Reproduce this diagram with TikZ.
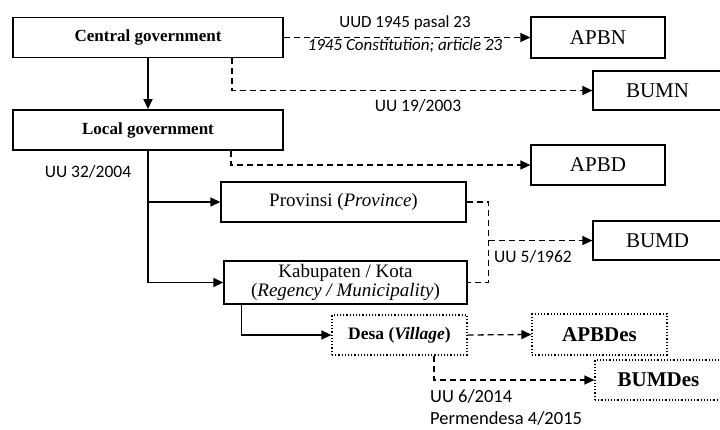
\documentclass[tikz,border=0pt]{standalone}
\usepackage{fontspec}
\setmainfont{Liberation Serif}
\newfontfamily\lawfont{Carlito}
\usetikzlibrary{arrows.meta}

\tikzset{
  govbox/.style={draw,line width=1.8pt,minimum width=270pt,minimum height=40pt,
    font=\fontsize{17}{19}\selectfont\bfseries},
  fundbox/.style={draw,line width=1.2pt,minimum height=40pt,font=\fontsize{21}{23}\selectfont},
  regbox/.style={draw,line width=1.4pt,minimum height=40pt,align=center,
    font=\fontsize{19}{17}\selectfont},
  vilbox/.style={draw,line width=1.2pt,dotted,minimum height=40pt,
    font=\fontsize{21}{23}\selectfont\bfseries},
  lawtext/.style={inner sep=1pt,font=\lawfont\fontsize{17.5}{18}\selectfont},
  legal/.style={line width=1.3pt,dash pattern=on 6pt off 4pt,->},
  rule/.style={line width=1.4pt,->}
}

\begin{document}
\begin{tikzpicture}[x=1pt,y=-1pt,>={Triangle[length=10pt,width=9pt]}]
\useasboundingbox (0,0) rectangle (720,429);
% government levels
\node[govbox] (central) at (148,37.5) {Central government};
\node[govbox] (local) at (148,130) {Local government};
\node[regbox,minimum width=245pt] (prov) at (343.5,202) {Provinsi (\textit{Province})};
\node[regbox,minimum width=243pt,minimum height=43pt] (kab) at (345.5,282.5)
  {Kabupaten / Kota\\(\textit{Regency / Municipality})};
\node[vilbox,minimum width=135pt,font=\fontsize{17.5}{19}\selectfont\bfseries] (desa) at (399.5,335)
  {Desa (\textit{Village})};
% budgets and enterprises
\node[fundbox,minimum width=134pt,minimum height=41pt] (apbn) at (598,37.5) {APBN};
\node[fundbox,minimum width=129pt,minimum height=39pt] (bumn) at (657.5,90.5) {BUMN};
\node[fundbox,minimum width=134pt] (apbd) at (598,165) {APBD};
\node[fundbox,minimum width=129pt,minimum height=39pt] (bumd) at (657.5,240.5) {BUMD};
\node[vilbox,minimum width=135pt,minimum height=41pt] (apbdes) at (599.5,334.5) {APBDes};
\node[vilbox,minimum width=127pt] (bumdes) at (658.5,380) {BUMDes};
% hierarchy
\draw[rule] (central) -- (local);
\draw[rule] (local.south) |- (prov.west);
\draw[rule] (local.south) |- (kab.west);
\draw[rule] ([xshift=-104pt]kab.south) |- (desa.west);
% legal basis
\draw[legal] (central.east) -- (apbn.west);
\draw[legal] ([xshift=84pt]central.south) |- (bumn.west);
\draw[legal] ([xshift=83pt]local.south) |- (apbd.west);
\coordinate (bj) at ([xshift=22pt]prov.east |- bumd.west);
\draw[legal,-] (prov.east) -| (bj) |- (kab.east);
\draw[legal] (bj) -- (bumd.west);
\draw[legal] (desa.east) -- (apbdes.west);
\draw[legal] ([xshift=34.5pt]desa.south) |- (bumdes.west);
% laws
\node[lawtext,font=\lawfont\fontsize{17}{18}\selectfont] (uud) at (405,23) {UUD 1945 pasal 23};
\node[lawtext,font=\lawfont\fontsize{17}{18}\selectfont\itshape] (const) at (405,46)
  {1945 Constitution; article 23};
\node[lawtext] (uu19) at (418,106) {UU 19/2003};
\node[lawtext] (uu32) at (88,172) {UU 32/2004};
\node[lawtext] (uu5) at (533,257) {UU 5/1962};
\node[lawtext,inner sep=0pt,anchor=west,font=\lawfont\fontsize{18.5}{18}\selectfont] (uu6) at (430,396) {UU 6/2014};
\node[lawtext,inner sep=0pt,anchor=west,font=\lawfont\fontsize{18.5}{18}\selectfont] (perm) at (430,418) {Permendesa 4/2015};
\end{tikzpicture}
\end{document}
